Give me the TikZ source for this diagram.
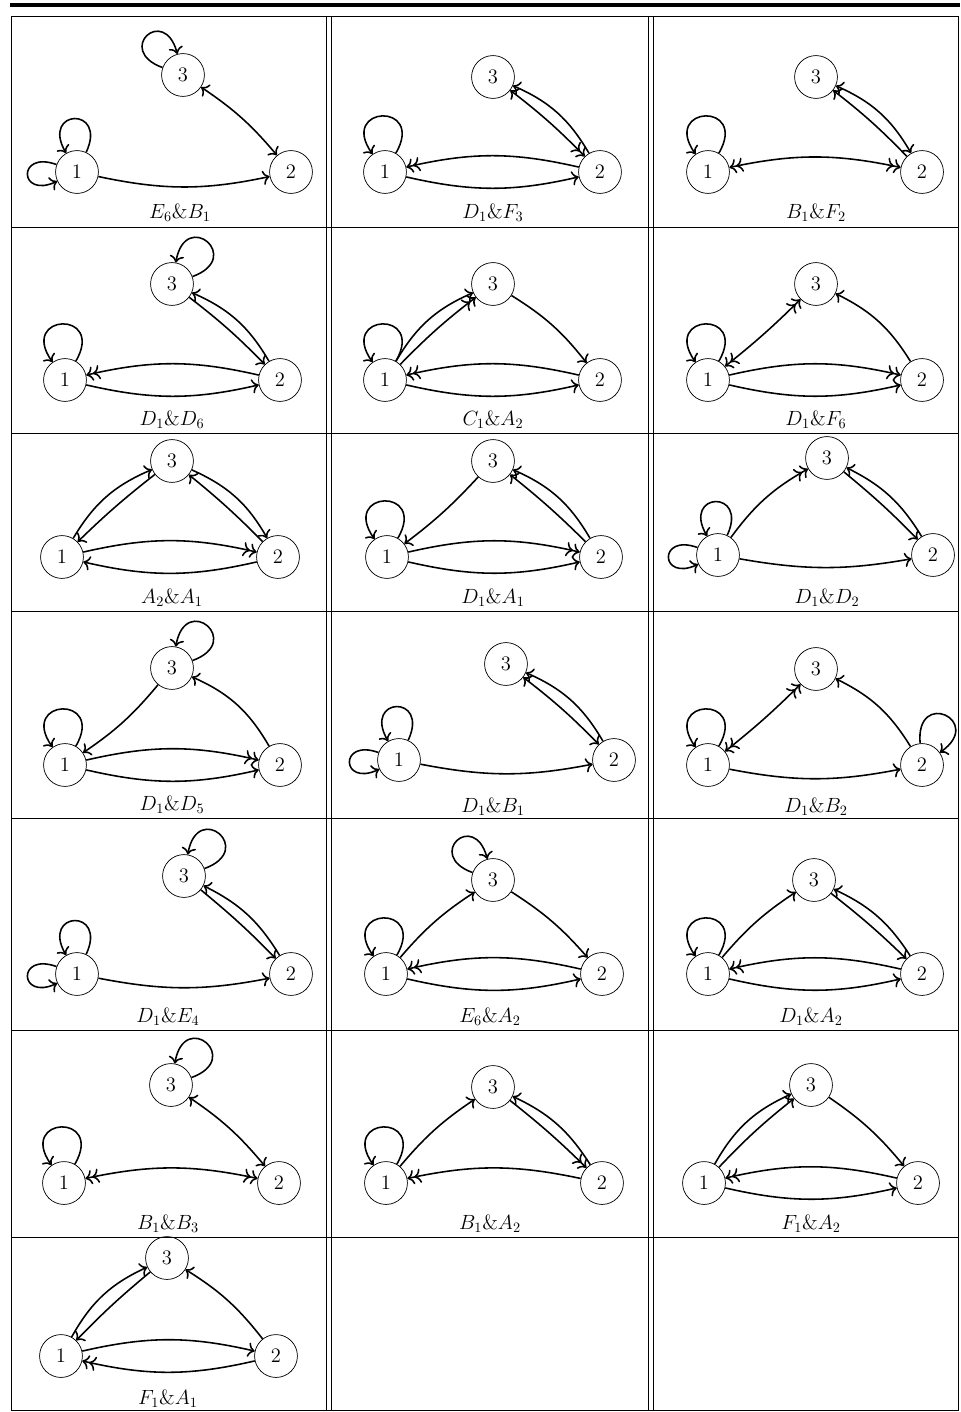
\documentclass[tikz,border=0pt]{standalone}
\usepackage{amsmath}
\usetikzlibrary{arrows.meta}

\tikzset{
    vtx/.style={draw, circle, minimum size=30pt, inner sep=0pt, line width=0.5pt, font=\fontsize{14.4}{16}\selectfont},
    edg/.style={line width=1.1pt},
    lbl/.style={font=\fontsize{14}{16}\selectfont},
    lp/.style={loop, min distance=2mm, looseness=6.5},
    >={To[scale=1.2]},
}

\begin{document}
\begin{tikzpicture}[x=0.7pt, y=0.7pt]
    \useasboundingbox (0,0) rectangle (960,-1412);
    % table rules
    \draw[line width=2.8pt] (10,-5.5) -- (960,-5.5);
    \draw[line width=0.6pt] (11,-16) rectangle (958,-1410);
    \foreach \yy in {227,433,611,818,1030,1237}
        \draw[line width=0.6pt] (11,-\yy) -- (958,-\yy);
    \foreach \xx in {326,331,648,653}
        \draw[line width=0.6pt] (\xx,-16) -- (\xx,-1410);

    % E6 & B1
    \node[vtx] (a1) at (77,-172) {1};
    \node[vtx] (a2) at (291,-172) {2};
    \node[vtx] (a3) at (183,-75) {3};
    \node[lbl] (la) at (180,-213) {$E_6\&B_1$};
    \draw[edg,->] (a1) to[lp, out=65, in=120] (a1);
    \draw[edg,->] (a1) to[lp, out=160, in=205] (a1);
    \draw[edg,->] (a3) to[lp, out=160, in=105] (a3);
    \draw[edg,->] (a1) to[bend right=12] (a2);
    \draw[edg,<->] (a3) to[bend left=8] (a2);

    % D1 & F3
    \node[vtx] (b1) at (385,-172) {1};
    \node[vtx] (b2) at (600,-172) {2};
    \node[vtx] (b3) at (493,-77) {3};
    \node[lbl] (lb) at (493,-213) {$D_1\&F_3$};
    \draw[edg,->] (b1) to[lp, out=60, in=125] (b1);
    \draw[edg,->] (b1) to[bend right=13] (b2);
    \draw[edg,->>] (b2) to[bend right=13] (b1);
    \draw[edg,->] (b2) to[bend right=18] (b3);
    \draw[edg,<->>] (b3) to[bend left=4] (b2);

    % B1 & F2
    \node[vtx] (c1) at (708,-172) {1};
    \node[vtx] (c2) at (922,-172) {2};
    \node[vtx] (c3) at (816,-77) {3};
    \node[lbl] (lc) at (816,-213) {$B_1\&F_2$};
    \draw[edg,->] (c1) to[lp, out=60, in=125] (c1);
    \draw[edg,<<->>] (c1) to[bend left=12] (c2);
    \draw[edg,<->] (c3) to[bend left=18] (c2);
    \draw[edg,->] (c2) to[bend right=4] (c3);

    % D1 & D6
    \node[vtx] (d1) at (65,-380) {1};
    \node[vtx] (d2) at (280,-380) {2};
    \node[vtx] (d3) at (172,-284) {3};
    \node[lbl] (ld) at (172,-420) {$D_1\&D_6$};
    \draw[edg,->] (d1) to[lp, out=60, in=125] (d1);
    \draw[edg,->] (d3) to[lp, out=20, in=80] (d3);
    \draw[edg,->] (d1) to[bend right=13] (d2);
    \draw[edg,->>] (d2) to[bend right=13] (d1);
    \draw[edg,->] (d2) to[bend right=18] (d3);
    \draw[edg,->] (d3) to[bend left=4] (d2);

    % C1 & A2
    \node[vtx] (e1) at (385,-380) {1};
    \node[vtx] (e2) at (600,-380) {2};
    \node[vtx] (e3) at (493,-284) {3};
    \node[lbl] (le) at (493,-420) {$C_1\&A_2$};
    \draw[edg,->] (e1) to[lp, out=60, in=125] (e1);
    \draw[edg,->] (e1) to[bend left=18] (e3);
    \draw[edg,->>] (e1) to[bend left=4] (e3);
    \draw[edg,->] (e3) to[bend left=10] (e2);
    \draw[edg,->] (e1) to[bend right=13] (e2);
    \draw[edg,->>] (e2) to[bend right=13] (e1);

    % D1 & F6
    \node[vtx] (f1) at (708,-380) {1};
    \node[vtx] (f2) at (922,-380) {2};
    \node[vtx] (f3) at (816,-284) {3};
    \node[lbl] (lf) at (816,-420) {$D_1\&F_6$};
    \draw[edg,->] (f1) to[lp, out=60, in=125] (f1);
    \draw[edg,<<->>] (f1) to[bend right=3] (f3);
    \draw[edg,->] (f2) to[bend right=16] (f3);
    \draw[edg,->>] (f1) to[bend left=13] (f2);
    \draw[edg,->] (f1) to[bend right=13] (f2);

    % A2 & A1
    \node[vtx] (g1) at (62,-557) {1};
    \node[vtx] (g2) at (278,-557) {2};
    \node[vtx] (g3) at (172,-461) {3};
    \node[lbl] (lg) at (172,-598) {$A_2\&A_1$};
    \draw[edg,->] (g1) to[bend left=18] (g3);
    \draw[edg,->] (g3) to[bend right=3] (g1);
    \draw[edg,->] (g3) to[bend left=18] (g2);
    \draw[edg,->] (g2) to[bend right=3] (g3);
    \draw[edg,->>] (g1) to[bend left=13] (g2);
    \draw[edg,->] (g2) to[bend left=13] (g1);

    % D1 & A1
    \node[vtx] (h1) at (387,-557) {1};
    \node[vtx] (h2) at (601,-557) {2};
    \node[vtx] (h3) at (493,-461) {3};
    \node[lbl] (lh) at (493,-598) {$D_1\&A_1$};
    \draw[edg,->] (h1) to[lp, out=60, in=125] (h1);
    \draw[edg,->] (h3) to[bend left=5] (h1);
    \draw[edg,->] (h2) to[bend right=18] (h3);
    \draw[edg,->] (h2) to[bend right=3] (h3);
    \draw[edg,->>] (h1) to[bend left=13] (h2);
    \draw[edg,->] (h1) to[bend right=13] (h2);

    % D1 & D2
    \node[vtx] (i1) at (718,-555) {1};
    \node[vtx] (i2) at (933,-555) {2};
    \node[vtx] (i3) at (827,-458) {3};
    \node[lbl] (li) at (827,-598) {$D_1\&D_2$};
    \draw[edg,->] (i1) to[lp, out=65, in=120] (i1);
    \draw[edg,->] (i1) to[lp, out=160, in=205] (i1);
    \draw[edg,->>] (i1) to[bend left=12] (i3);
    \draw[edg,->] (i3) to[bend left=3] (i2);
    \draw[edg,->] (i2) to[bend right=16] (i3);
    \draw[edg,->] (i1) to[bend right=10] (i2);

    % D1 & D5
    \node[vtx] (j1) at (65,-765) {1};
    \node[vtx] (j2) at (280,-765) {2};
    \node[vtx] (j3) at (172,-668) {3};
    \node[lbl] (lj) at (172,-805) {$D_1\&D_5$};
    \draw[edg,->] (j1) to[lp, out=60, in=125] (j1);
    \draw[edg,->] (j3) to[lp, out=20, in=80] (j3);
    \draw[edg,->] (j3) to[bend left=8] (j1);
    \draw[edg,->] (j2) to[bend right=18] (j3);
    \draw[edg,->>] (j1) to[bend left=13] (j2);
    \draw[edg,->] (j1) to[bend right=13] (j2);

    % D1 & B1
    \node[vtx] (k1) at (399,-760) {1};
    \node[vtx] (k2) at (614,-760) {2};
    \node[vtx] (k3) at (506,-664) {3};
    \node[lbl] (lk) at (493,-807) {$D_1\&B_1$};
    \draw[edg,->] (k1) to[lp, out=65, in=120] (k1);
    \draw[edg,->] (k1) to[lp, out=160, in=205] (k1);
    \draw[edg,->] (k1) to[bend right=11] (k2);
    \draw[edg,->] (k2) to[bend right=18] (k3);
    \draw[edg,<->] (k3) to[bend left=4] (k2);

    % D1 & B2
    \node[vtx] (l1) at (708,-765) {1};
    \node[vtx] (l2) at (922,-765) {2};
    \node[vtx] (l3) at (816,-669) {3};
    \node[lbl] (ll) at (816,-807) {$D_1\&B_2$};
    \draw[edg,->] (l1) to[lp, out=60, in=125] (l1);
    \draw[edg,->] (l2) to[lp, out=95, in=35] (l2);
    \draw[edg,<<->>] (l1) to[bend right=3] (l3);
    \draw[edg,->] (l2) to[bend right=16] (l3);
    \draw[edg,->] (l1) to[bend right=11] (l2);

    % D1 & E4
    \node[vtx] (m1) at (77,-974) {1};
    \node[vtx] (m2) at (291,-974) {2};
    \node[vtx] (m3) at (184,-876) {3};
    \node[lbl] (lm) at (168,-1017) {$D_1\&E_4$};
    \draw[edg,->] (m1) to[lp, out=65, in=120] (m1);
    \draw[edg,->] (m1) to[lp, out=160, in=205] (m1);
    \draw[edg,->] (m3) to[lp, out=20, in=80] (m3);
    \draw[edg,->] (m1) to[bend right=11] (m2);
    \draw[edg,->] (m2) to[bend right=16] (m3);
    \draw[edg,->] (m3) to[bend left=3] (m2);

    % E6 & A2
    \node[vtx] (n1) at (386,-974) {1};
    \node[vtx] (n2) at (602,-974) {2};
    \node[vtx] (n3) at (493,-880) {3};
    \node[lbl] (ln) at (490,-1017) {$E_6\&A_2$};
    \draw[edg,->] (n1) to[lp, out=60, in=125] (n1);
    \draw[edg,->] (n3) to[lp, out=160, in=105] (n3);
    \draw[edg,->] (n1) to[bend left=8] (n3);
    \draw[edg,->] (n3) to[bend left=8] (n2);
    \draw[edg,->] (n1) to[bend right=13] (n2);
    \draw[edg,->>] (n2) to[bend right=13] (n1);

    % D1 & A2
    \node[vtx] (o1) at (708,-974) {1};
    \node[vtx] (o2) at (922,-974) {2};
    \node[vtx] (o3) at (814,-880) {3};
    \node[lbl] (lo) at (811,-1017) {$D_1\&A_2$};
    \draw[edg,->] (o1) to[lp, out=60, in=125] (o1);
    \draw[edg,->] (o1) to[bend left=8] (o3);
    \draw[edg,->] (o2) to[bend right=16] (o3);
    \draw[edg,->] (o3) to[bend left=3] (o2);
    \draw[edg,->] (o1) to[bend right=13] (o2);
    \draw[edg,->>] (o2) to[bend right=13] (o1);

    % B1 & B3
    \node[vtx] (p1) at (64,-1183) {1};
    \node[vtx] (p2) at (279,-1183) {2};
    \node[vtx] (p3) at (171,-1085) {3};
    \node[lbl] (lp) at (168,-1224) {$B_1\&B_3$};
    \draw[edg,->] (p1) to[lp, out=60, in=125] (p1);
    \draw[edg,->] (p3) to[lp, out=20, in=80] (p3);
    \draw[edg,<<->>] (p1) to[bend left=12] (p2);
    \draw[edg,<->] (p3) to[bend left=8] (p2);

    % B1 & A2
    \node[vtx] (q1) at (386,-1183) {1};
    \node[vtx] (q2) at (602,-1183) {2};
    \node[vtx] (q3) at (493,-1087) {3};
    \node[lbl] (lq) at (490,-1224) {$B_1\&A_2$};
    \draw[edg,->] (q1) to[lp, out=60, in=125] (q1);
    \draw[edg,->] (q1) to[bend left=8] (q3);
    \draw[edg,->] (q2) to[bend right=16] (q3);
    \draw[edg,->>] (q3) to[bend left=3] (q2);
    \draw[edg,->>] (q2) to[bend right=12] (q1);

    % F1 & A2
    \node[vtx] (r1) at (704,-1183) {1};
    \node[vtx] (r2) at (918,-1183) {2};
    \node[vtx] (r3) at (811,-1085) {3};
    \node[lbl] (lr) at (811,-1224) {$F_1\&A_2$};
    \draw[edg,->] (r1) to[bend left=18] (r3);
    \draw[edg,->] (r1) to[bend left=4] (r3);
    \draw[edg,->] (r3) to[bend left=8] (r2);
    \draw[edg,->] (r1) to[bend right=13] (r2);
    \draw[edg,->>] (r2) to[bend right=13] (r1);

    % F1 & A1
    \node[vtx] (s1) at (61,-1356) {1};
    \node[vtx] (s2) at (276,-1356) {2};
    \node[vtx] (s3) at (167,-1258) {3};
    \node[lbl] (ls) at (168,-1399) {$F_1\&A_1$};
    \draw[edg,->] (s1) to[bend left=18] (s3);
    \draw[edg,->] (s3) to[bend right=3] (s1);
    \draw[edg,->] (s2) to[bend right=10] (s3);
    \draw[edg,->] (s1) to[bend left=13] (s2);
    \draw[edg,->>] (s2) to[bend left=13] (s1);
\end{tikzpicture}
\end{document}
